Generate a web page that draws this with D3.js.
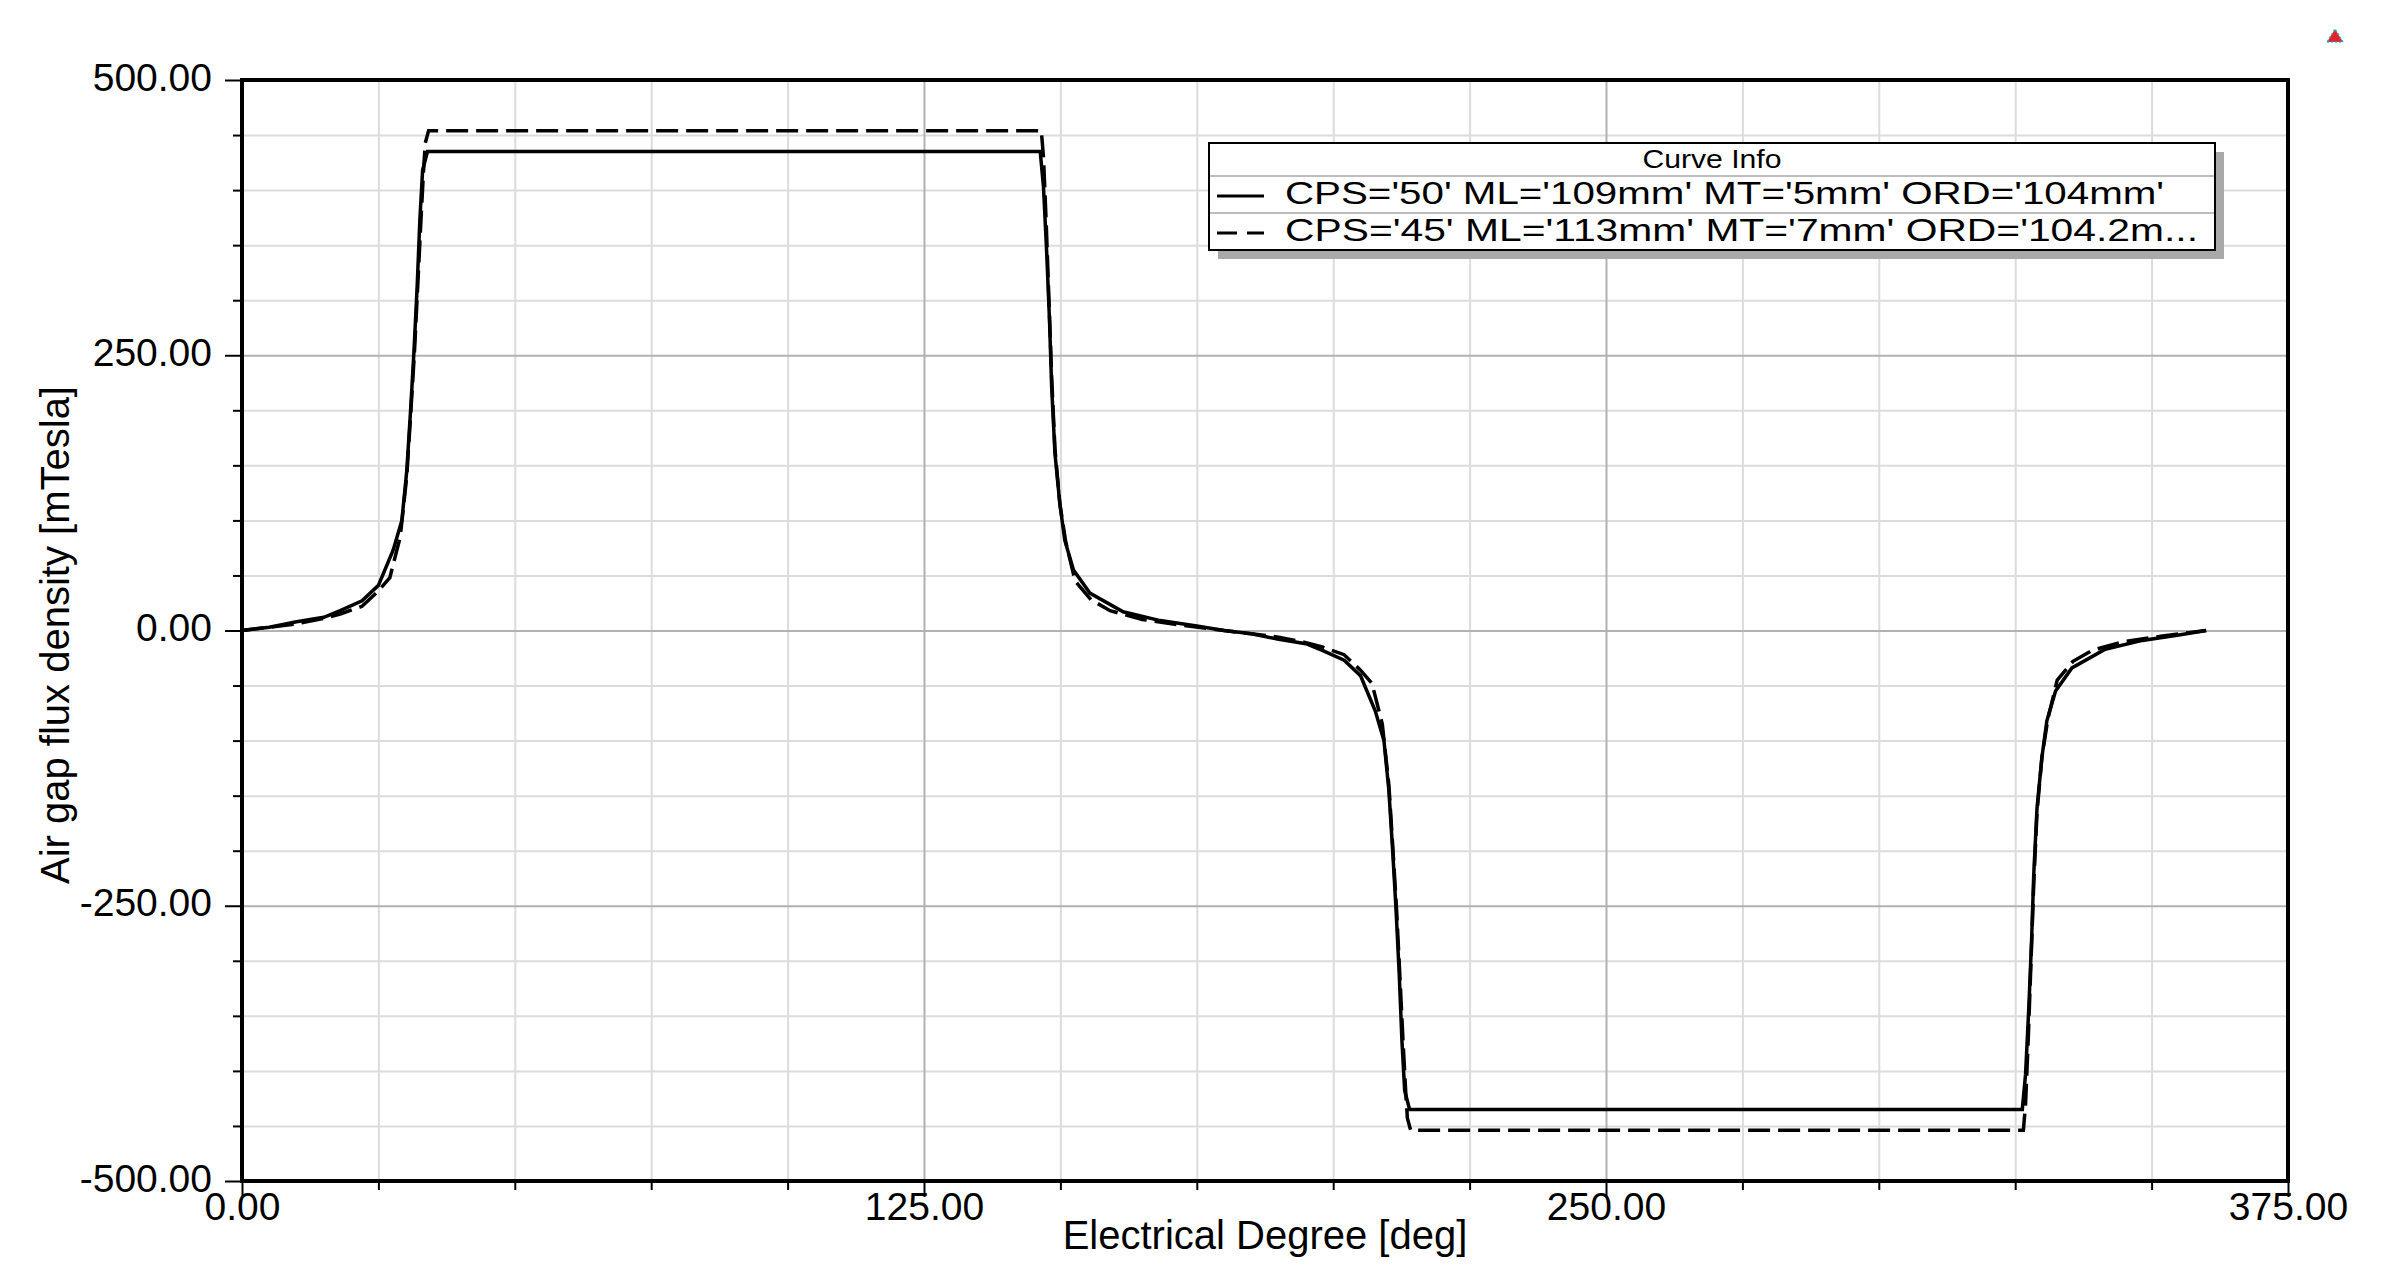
<!DOCTYPE html>
<html>
<head>
<meta charset="utf-8">
<script src="https://cdn.jsdelivr.net/npm/d3@7"></script>
<style>
  body { margin: 0; background: #fff; }
  text { font-family: "Liberation Sans", Arial, sans-serif; }
</style>
</head>
<body>
<div class="fluxGraph"></div>
<script>

// tick values
let xMajorTicks = [0, 125, 250, 375];
let xMinorTicks = [25, 50, 75, 100, 150, 175, 200, 225, 275, 300, 325, 350];
let yMajorTicks = [500, 250, 0, -250, -500];
let yMinorTicks = [450, 400, 350, 300, 200, 150, 100, 50, -50, -100, -150, -200, -300, -350, -400, -450];
let xGridMajor = [125, 250];
let yGridMajor = [250, 0, -250];

// CPS='50' ML='109mm' MT='5mm' ORD='104mm'  (solid)
let solidDeg = [0, 5, 10, 15, 18, 22, 25, 27.7, 29.3, 30.2, 30.9, 31.5, 32.1, 32.6, 33.1, 34,
  146.3, 146.9, 147.5, 148, 148.4, 149, 149.9, 150.8, 152.4, 155.4, 161.5, 168.3, 175, 180,
  185, 190, 195, 198, 202, 205, 207.7, 209.3, 210.2, 210.9, 211.5, 212.1, 212.6, 213.1, 214,
  326.3, 326.9, 327.5, 328, 328.4, 329, 329.9, 330.8, 332.4, 335.4, 341.5, 348.3, 355, 360];
let solidVal = [0, 3, 8, 12, 18, 27, 41, 73, 100, 145, 200, 252, 312, 373, 418, 435,
  435, 403, 342, 282, 221, 161, 115, 82, 55, 34, 17, 9, 4, 0,
  -3, -8, -12, -18, -27, -41, -73, -100, -145, -200, -252, -312, -373, -418, -435,
  -435, -403, -342, -282, -221, -161, -115, -82, -55, -34, -17, -9, -4, 0];

// CPS='45' ML='113mm' MT='7mm' ORD='104.2mm'  (dashed)
let dashedDeg = [0, 5, 10, 15, 18, 22, 25, 27.1, 29, 30.2, 30.9, 31.6, 32.2, 32.8, 33.3, 33.6, 34.2,
  146.5, 146.9, 147.4, 147.9, 148.4, 149, 149.9, 151, 152.7, 155.6, 159.1, 165, 172, 180,
  185, 190, 195, 198, 202, 205, 207.1, 209, 210.2, 210.9, 211.6, 212.2, 212.8, 213.3, 213.6, 214.2,
  326.5, 326.9, 327.4, 327.9, 328.4, 329, 329.9, 331, 332.7, 335.6, 339.1, 345, 352, 360];
let dashedVal = [0, 3, 6, 11, 15, 22, 36, 48, 85, 140, 195, 252, 312, 373, 420, 443, 454,
  454, 430, 370, 300, 230, 165, 115, 80, 45, 28, 18, 10, 5, 0,
  -3, -6, -11, -15, -22, -36, -48, -85, -140, -195, -252, -312, -373, -420, -443, -454,
  -454, -430, -370, -300, -230, -165, -115, -80, -45, -28, -18, -10, -5, 0];

let legendLabels = ["CPS='50' ML='109mm' MT='5mm' ORD='104mm'", "CPS='45' ML='113mm' MT='7mm' ORD='104.2m..."];
let legendDash = [null, '20,10'];
let legendTextWidth = [879, 913];

let width = 2387;
let height = 1288;
let plot = { left: 242, right: 2288, top: 80, bottom: 1181 };

let svg = d3.select('.fluxGraph')
  .append('svg')
  .attr('width', width)
  .attr('height', height)
  .attr('viewBox', '0 0 ' + width + ' ' + height);

let xScale = d3.scaleLinear().domain([0, 375]).range([plot.left, plot.right]);
let yScale = d3.scaleLinear().domain([-500, 500]).range([plot.bottom, plot.top]);

let fmt = function(d) { return d.toFixed(2); };
let plotH = plot.bottom - plot.top;
let plotW = plot.right - plot.left;

// grid lines
function grid(axis, translate, ticks, size, color) {
  svg.append('g')
    .attr('transform', translate)
    .call(axis.tickValues(ticks).tickSize(size).tickFormat(''))
    .call(function(g) { g.select('.domain').remove(); })
    .selectAll('line')
    .attr('stroke', color)
    .attr('stroke-width', 2);
}
grid(d3.axisBottom(xScale), 'translate(0,' + plot.bottom + ')', xMinorTicks, -plotH, '#dcdcdc');
grid(d3.axisLeft(yScale), 'translate(' + plot.left + ',0)', yMinorTicks, -plotW, '#dcdcdc');
grid(d3.axisBottom(xScale), 'translate(0,' + plot.bottom + ')', xGridMajor, -plotH, '#b2b2b2');
grid(d3.axisLeft(yScale), 'translate(' + plot.left + ',0)', yGridMajor, -plotW, '#b2b2b2');

// curves
let line = d3.line()
  .x(function(d) { return xScale(d[0]); })
  .y(function(d) { return yScale(d[1]); });

svg.append('path')
  .datum(solidDeg.map(function(d, i) { return [d, solidVal[i]]; }))
  .attr('d', line)
  .attr('fill', 'none')
  .attr('stroke', '#000')
  .attr('stroke-width', 3.5);

svg.append('path')
  .datum(dashedDeg.map(function(d, i) { return [d, dashedVal[i]]; }))
  .attr('d', line)
  .attr('fill', 'none')
  .attr('stroke', '#000')
  .attr('stroke-width', 3.5)
  .attr('stroke-dasharray', '22,8');

// frame
svg.append('rect')
  .attr('x', plot.left)
  .attr('y', plot.top)
  .attr('width', plotW)
  .attr('height', plotH)
  .attr('fill', 'none')
  .attr('stroke', '#000')
  .attr('stroke-width', 4);

// x axis ticks
svg.append('g')
  .attr('transform', 'translate(0,' + plot.bottom + ')')
  .call(d3.axisBottom(xScale).tickValues(xMinorTicks).tickSize(9).tickFormat(''))
  .call(function(g) { g.select('.domain').remove(); })
  .selectAll('line').attr('stroke-width', 2);

let xAxis = svg.append('g')
  .attr('transform', 'translate(0,' + plot.bottom + ')')
  .call(d3.axisBottom(xScale).tickValues(xMajorTicks).tickSize(16).tickFormat(fmt))
  .call(function(g) { g.select('.domain').remove(); });
xAxis.selectAll('line').attr('stroke-width', 2);
xAxis.selectAll('text')
  .attr('y', 39)
  .attr('dy', 0)
  .attr('fill', '#000')
  .style('font-size', '39px')
  .style('font-family', '"Liberation Sans", Arial, sans-serif');

// y axis ticks
svg.append('g')
  .attr('transform', 'translate(' + plot.left + ',0)')
  .call(d3.axisLeft(yScale).tickValues(yMinorTicks).tickSize(9).tickFormat(''))
  .call(function(g) { g.select('.domain').remove(); })
  .selectAll('line').attr('stroke-width', 2);

let yAxis = svg.append('g')
  .attr('transform', 'translate(' + plot.left + ',0)')
  .call(d3.axisLeft(yScale).tickValues(yMajorTicks).tickSize(17).tickPadding(13).tickFormat(fmt))
  .call(function(g) { g.select('.domain').remove(); });
yAxis.selectAll('line').attr('stroke-width', 2);
yAxis.selectAll('text')
  .attr('dy', 10)
  .attr('fill', '#000')
  .style('font-size', '39px')
  .style('font-family', '"Liberation Sans", Arial, sans-serif');

// axis titles
svg.append('text')
  .attr('x', (plot.left + plot.right) / 2)
  .attr('y', 1249)
  .attr('text-anchor', 'middle')
  .style('font-size', '40px')
  .text('Electrical Degree [deg]');

svg.append('text')
  .attr('transform', 'translate(69,' + 635 + ') rotate(-90)')
  .attr('text-anchor', 'middle')
  .style('font-size', '40px')
  .text('Air gap flux density [mTesla]');

// legend
let lg = { x: 1209, y: 143, w: 1006, titleH: 33, rowH: 37 };
let lgH = lg.titleH + lg.rowH * legendLabels.length;
let legend = svg.append('g');

legend.append('rect')
  .attr('x', lg.x + 9).attr('y', lg.y + 9)
  .attr('width', lg.w).attr('height', lgH)
  .attr('fill', '#a9a9a9');
legend.append('rect')
  .attr('x', lg.x).attr('y', lg.y)
  .attr('width', lg.w).attr('height', lgH)
  .attr('fill', '#fff')
  .attr('stroke', '#000')
  .attr('stroke-width', 2);

legend.append('text')
  .attr('x', lg.x + lg.w / 2)
  .attr('y', lg.y + 25)
  .attr('text-anchor', 'middle')
  .attr('textLength', 139)
  .attr('lengthAdjust', 'spacingAndGlyphs')
  .style('font-size', '26px')
  .text('Curve Info');

legendLabels.forEach(function(label, i) {
  let top = lg.y + lg.titleH + i * lg.rowH;
  legend.append('line')
    .attr('x1', lg.x + 1).attr('x2', lg.x + lg.w - 1)
    .attr('y1', top).attr('y2', top)
    .attr('stroke', '#bdbdbd')
    .attr('stroke-width', 2);
  legend.append('line')
    .attr('x1', lg.x + 8).attr('x2', lg.x + 55)
    .attr('y1', top + 20).attr('y2', top + 20)
    .attr('stroke', '#000')
    .attr('stroke-width', 3)
    .attr('stroke-dasharray', legendDash[i]);
  legend.append('text')
    .attr('x', lg.x + 76)
    .attr('y', top + 28)
    .attr('textLength', legendTextWidth[i])
    .attr('lengthAdjust', 'spacingAndGlyphs')
    .style('font-size', '32px')
    .text(label);
});

// small corner marker
svg.append('polygon')
  .attr('points', '2327,42 2343,42 2335,29')
  .attr('fill', '#e8202a')
  .attr('stroke', '#19b8c8')
  .attr('stroke-width', 1.5)
  .attr('stroke-dasharray', '2,2');

</script>
</body>
</html>
